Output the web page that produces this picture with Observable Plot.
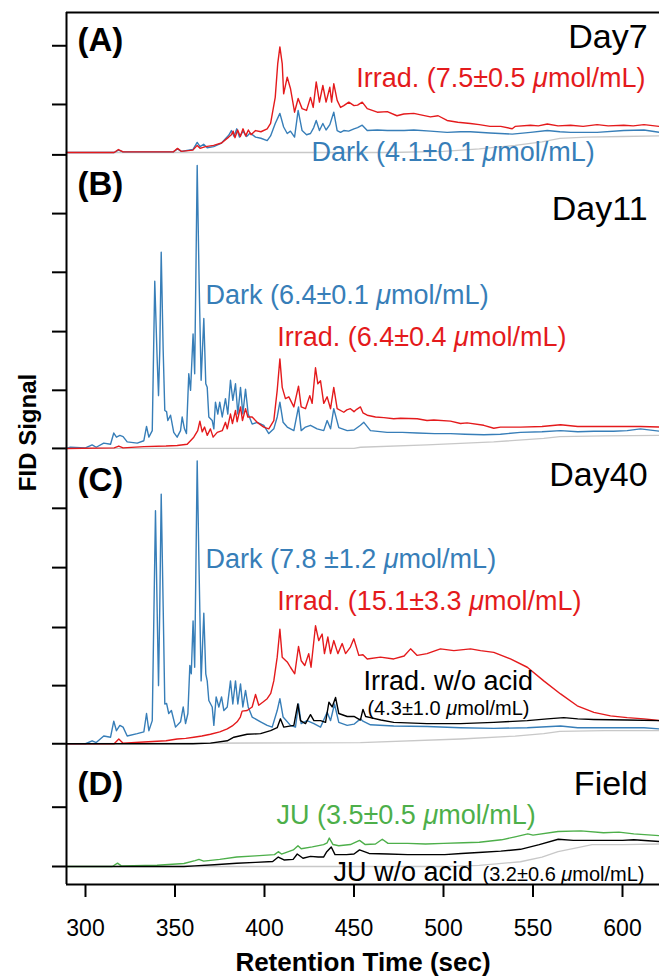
<!DOCTYPE html>
<html><head><meta charset="utf-8">
<script src="https://cdn.jsdelivr.net/npm/d3@7"></script>
<script src="https://cdn.jsdelivr.net/npm/@observablehq/plot@0.6"></script>
<style>
body{margin:0;background:#fff;}
#chart svg{font-family:"Liberation Sans",Arial,Helvetica,sans-serif;}
#chart svg [aria-label^="x-axis"] path, #chart svg [aria-label^="y-axis"] path{stroke-width:2px;}
</style></head><body><div id="chart"></div>
<script>
// ---------- data (retention time in sec, FID signal in tick units above panel baseline) ----------
const xTicks = [300, 350, 400, 450, 500, 550, 600];
const yTickValues = [0, 1, 2.07, 3.05, 4.03, 5.04, 6.04, 7.05, 8.03, 9.02, 10.02, 11.01, 12.0, 12.85, 13.84];

// Panel A (Day7)
const irradA = [[289.4,0],[316,0],[318.4,0.05],[321,0.01],[349,0.01],[351.4,0.07],[353.5,0.02],[360,0.04],[362.4,0.12],[364,0.07],[367,0.1],[371.6,0.12],[376,0.16],[380,0.26],[381.5,0.3],[382.5,0.36],[383.5,0.25],[385,0.38],[386.5,0.27],[388,0.4],[389.5,0.28],[391,0.38],[392.5,0.3],[395,0.37],[398,0.35],[401.5,0.4],[403.4,0.49],[406,0.93],[407.4,1.5],[408.6,1.78],[409.9,1.5],[410.7,0.99],[412.7,1.27],[414.5,1.08],[416.8,0.68],[418.8,0.91],[421,0.74],[423.5,0.71],[425.7,0.93],[427.2,0.76],[428.9,1.19],[430.7,0.85],[432.6,1.13],[434.4,0.85],[436.5,1.1],[437.5,0.85],[438.7,1.16],[440.6,0.88],[442.5,0.76],[444.3,0.79],[447.1,0.85],[450,0.79],[452,0.8],[454.6,0.85],[457.4,0.74],[463,0.68],[468.6,0.69],[474,0.62],[477.8,0.65],[483.4,0.66],[488,0.63],[492.7,0.6],[497,0.62],[502,0.54],[508,0.51],[515,0.49],[520,0.47],[526,0.44],[532,0.44],[538.4,0.4],[540,0.44],[548.6,0.46],[553,0.45],[558,0.48],[564,0.45],[571,0.46],[578,0.44],[585.8,0.47],[592,0.45],[600.7,0.46],[606,0.45],[612,0.47],[620.7,0.44]];
const darkA = [[289.4,0],[316,0],[318.4,0.04],[321,0.01],[349,0.01],[351.4,0.06],[353.5,0.02],[360,0.05],[362.4,0.17],[364,0.1],[366,0.14],[368,0.08],[371.6,0.1],[376,0.16],[380,0.29],[381.5,0.37],[383,0.27],[384.5,0.4],[386,0.26],[388,0.36],[390,0.27],[392,0.33],[395,0.26],[398,0.24],[401.5,0.2],[403.4,0.28],[406,0.49],[408.6,0.66],[410.7,0.43],[412.7,0.32],[414.5,0.36],[416.8,0.26],[418.8,0.71],[421,0.37],[423.5,0.3],[425.7,0.32],[427.5,0.42],[428.9,0.54],[430.7,0.37],[432.6,0.49],[434.4,0.38],[436.5,0.47],[438.7,0.68],[440.6,0.37],[442.5,0.34],[444.3,0.37],[447,0.36],[450,0.4],[452,0.42],[454.6,0.46],[457.4,0.37],[463,0.38],[468.6,0.37],[474,0.37],[478,0.37],[483.4,0.38],[492.7,0.36],[502,0.34],[509.5,0.35],[515,0.35],[526,0.33],[538.4,0.31],[548.6,0.34],[558,0.37],[565,0.35],[571,0.34],[585.8,0.34],[600.7,0.37],[612,0.38],[620.7,0.34]];
const blankA = [[289.4,0],[470,0],[500,0.02],[520,0.06],[540,0.12],[555,0.18],[565,0.24],[580,0.26],[600,0.27],[620.7,0.28]];

// Panel B (Day11)
const darkB = [[289.4,0],[291.6,0.02],[300,0.01],[303.7,0.06],[306,0.02],[310.2,0.09],[314,0.07],[315.8,0.26],[317.3,0.19],[319.2,0.22],[321,0.2],[323.3,0.11],[328.9,0.09],[332.6,0.13],[334.1,0.37],[335.4,0.19],[337.3,0.3],[338.7,2.82],[340,1.54],[340.8,0.89],[341.5,1.65],[342.3,3.31],[343.4,1.65],[344.3,0.64],[345.3,0.62],[346,0.47],[347.5,0.56],[349.3,0.27],[351.2,0.19],[353.1,0.3],[354,0.53],[355.3,0.33],[356.4,0.25],[357.7,1.26],[358.7,0.98],[360.1,1.93],[361,1.26],[362.4,4.77],[363.5,2.78],[364.6,1.15],[366.1,2.19],[367.2,1.09],[368,1.03],[368.9,0.53],[370.8,0.47],[371.7,0.33],[372.6,0.78],[373.9,0.58],[375,0.78],[376.4,0.53],[378.2,0.84],[379.5,0.58],[381,1.15],[382.3,0.81],[383.8,1.09],[385.1,0.58],[386.6,1.03],[387.9,0.58],[389.4,1.0],[390.9,0.58],[393.1,0.41],[395.9,0.44],[399.6,0.39],[402.4,0.25],[405.2,0.33],[407.1,0.53],[408.6,0.78],[410.4,0.44],[412.7,0.36],[416.4,0.3],[419,0.7],[420.5,0.3],[422.9,0.36],[425.7,0.39],[429.4,0.33],[433.1,0.3],[435,0.47],[436.9,0.33],[438.7,0.67],[441.5,0.35],[446.2,0.3],[450,0.31],[453.6,0.39],[455.5,0.44],[459.2,0.3],[468.5,0.27],[477,0.27],[485.3,0.26],[495,0.25],[503.9,0.25],[512,0.24],[522.5,0.23],[531.8,0.24],[543,0.27],[555,0.28],[565.4,0.3],[575,0.28],[584,0.29],[595,0.29],[602.6,0.3],[610,0.33],[620.7,0.29]];
const irradB = [[289.4,0],[316,0.01],[318.6,0.04],[321,0.01],[332.6,0.03],[345,0.04],[351.2,0.05],[356.8,0.07],[360.5,0.19],[362.7,0.3],[363.9,0.46],[365.2,0.28],[366.5,0.36],[368,0.22],[369.8,0.33],[371.3,0.19],[373.6,0.27],[376.4,0.3],[378.2,0.44],[379.2,0.33],[381,0.58],[382.1,0.42],[383.8,0.64],[384.7,0.45],[386.6,0.7],[387.7,0.47],[389.4,0.67],[390.7,0.53],[393.1,0.53],[395.9,0.44],[399.6,0.36],[402.4,0.33],[405.2,0.47],[407.1,0.98],[408.6,1.51],[409.9,1.03],[411.7,0.84],[413.6,0.87],[416.4,0.7],[419,1.05],[420.5,0.7],[422.9,0.67],[425.3,0.89],[426.6,0.76],[428.5,1.36],[429.8,1.09],[431.3,1.14],[433.1,0.76],[435,0.87],[436.9,0.67],[438.7,1.03],[440.6,0.67],[444.3,0.61],[446,0.65],[448,0.67],[450,0.62],[451.5,0.66],[453.6,0.7],[455,0.6],[457.4,0.56],[462,0.53],[466.7,0.52],[472.2,0.5],[476,0.51],[485.3,0.5],[490.8,0.47],[494.6,0.48],[503.9,0.46],[509.5,0.42],[513.2,0.43],[522.5,0.39],[528.1,0.34],[531.8,0.36],[543,0.36],[555,0.37],[565.4,0.4],[575,0.37],[584,0.37],[595,0.37],[602.6,0.37],[610,0.37],[620.7,0.36]];
const blankB = [[289.4,0],[450,0],[453.6,0.02],[490.8,0.06],[528,0.11],[556,0.17],[565,0.2],[590,0.21],[620.7,0.22]];

// Panel C (Day40)
const darkC = [[289.4,0],[300,0],[303.7,0.05],[306,0.02],[310.2,0.13],[314,0.11],[315.8,0.38],[317.3,0.22],[319.2,0.31],[321,0.28],[323.3,0.13],[328.9,0.17],[332.6,0.2],[334.1,0.51],[335.4,0.22],[337.3,0.39],[339.1,3.93],[340,2.3],[340.8,0.98],[341.5,2.3],[342.3,4.21],[343.4,2.3],[344.3,0.67],[345.3,0.68],[346.5,0.51],[348,0.56],[350.3,0.28],[353.1,0.37],[354.6,0.62],[355.9,0.34],[357.2,0.51],[358.3,1.32],[359.1,1.18],[360.1,2.07],[361,1.29],[362.4,4.77],[363.5,2.86],[364.6,1.06],[366.1,2.2],[367.2,1.18],[368,1.06],[368.9,0.73],[370.8,0.62],[371.7,0.31],[373,0.79],[374.5,0.62],[376,0.79],[377.3,0.56],[379.2,0.62],[381,1.06],[382.3,0.67],[383.8,1.06],[385.1,0.67],[386.6,1.01],[387.9,0.62],[389.4,0.9],[390.9,0.62],[393.1,0.45],[397.8,0.37],[401.5,0.31],[404.3,0.28],[407.1,0.56],[408.6,0.76],[410.4,0.45],[414.5,0.31],[417.3,0.28],[419,0.67],[420.5,0.34],[423.8,0.39],[427.6,0.34],[431.3,0.28],[435,0.53],[436.9,0.39],[439.1,0.67],[441.5,0.36],[446.2,0.31],[450,0.33],[453.6,0.42],[455,0.38],[459.2,0.32],[472.2,0.3],[490.8,0.29],[509.5,0.27],[528.1,0.26],[546.8,0.27],[565.4,0.3],[575,0.27],[584,0.27],[600,0.27],[612,0.27],[620.7,0.25]];
const irradC = [[289.4,0],[316,0],[318.6,0.08],[321,0.01],[332.6,0.03],[345,0.05],[351.2,0.08],[356,0.09],[360.5,0.11],[365,0.13],[369.8,0.16],[375,0.2],[379.2,0.25],[382,0.3],[384.7,0.37],[386.5,0.45],[387.5,0.55],[390.3,0.56],[393.1,0.62],[395,0.83],[396.8,0.65],[399,0.7],[401.5,0.76],[403.5,0.85],[405.2,1.06],[407.1,1.46],[408.6,1.93],[409.9,1.46],[412.7,1.38],[414.5,1.29],[416.9,1.18],[419,1.64],[420.5,1.4],[422.5,1.32],[424.7,1.52],[426,1.29],[428.5,1.99],[430.3,1.74],[432.2,1.85],[433.5,1.52],[435.4,1.8],[436.9,1.52],[438.7,1.74],[441,1.52],[443.4,1.69],[445.3,1.52],[448,1.63],[449.9,1.77],[452.7,1.49],[455,1.5],[457.4,1.43],[464.8,1.46],[472.2,1.43],[478,1.48],[481.6,1.6],[485.3,1.49],[490.8,1.52],[498.3,1.6],[505.8,1.57],[515.1,1.6],[520.7,1.57],[528.1,1.54],[537.4,1.43],[546.8,1.29],[556,1.06],[565.4,0.84],[574.7,0.64],[584,0.53],[593.3,0.47],[602.6,0.44],[612,0.42],[620.7,0.39]];
const noAcidC = [[289.4,0],[360,0],[369.8,0.01],[379.2,0.05],[382.9,0.11],[386,0.13],[390.3,0.16],[397.8,0.17],[403.4,0.22],[407.1,0.27],[408.9,0.42],[410.8,0.28],[416.4,0.31],[418.6,0.67],[420.1,0.39],[422.9,0.34],[425.7,0.49],[427.6,0.39],[431.3,0.39],[434.1,0.36],[436,0.7],[437.8,0.62],[439.7,0.78],[441.5,0.51],[446.2,0.46],[450,0.46],[453.6,0.4],[455,0.58],[456.5,0.46],[459.2,0.44],[465,0.4],[472.2,0.36],[490.8,0.34],[509.5,0.34],[528.1,0.36],[546.8,0.39],[558,0.42],[567.2,0.44],[575,0.42],[584,0.41],[602.6,0.4],[620.7,0.39]];
const blankC = [[289.4,0],[453.6,0.02],[509.5,0.08],[540,0.13],[556,0.17],[565,0.21],[590,0.22],[620.7,0.22]];

// Panel D (Field)
const juD = [[289.4,0],[315,0],[317.9,0.056],[320,0.01],[340,0.02],[355,0.05],[361.2,0.1],[363.4,0.12],[366,0.09],[375,0.12],[384.5,0.16],[395,0.18],[405.6,0.2],[407.7,0.25],[409.5,0.21],[416.1,0.28],[418.7,0.35],[420.5,0.3],[426.7,0.33],[433,0.37],[435,0.4],[436.2,0.48],[438.3,0.37],[441.5,0.35],[448,0.37],[453.1,0.44],[456.3,0.37],[462,0.38],[465.8,0.46],[469,0.39],[480,0.39],[490,0.38],[500,0.39],[511.2,0.4],[520,0.41],[532.4,0.45],[540,0.5],[547.1,0.55],[550,0.53],[564,0.59],[576.8,0.6],[589.4,0.57],[598,0.58],[606.3,0.55],[620.7,0.52]];
const juNoAcidD = [[289.4,0],[355,0],[361,0.01],[372,0.03],[384.5,0.056],[395,0.07],[404.6,0.084],[407.7,0.16],[410.9,0.11],[416,0.12],[418.3,0.21],[421.5,0.14],[425.7,0.17],[430,0.16],[433,0.16],[434.8,0.25],[437.3,0.33],[439.4,0.2],[445.8,0.2],[450,0.21],[453.1,0.28],[458.4,0.22],[469,0.21],[480,0.2],[490,0.2],[500.7,0.2],[510,0.22],[521.8,0.24],[532,0.26],[543,0.29],[553.5,0.37],[564.1,0.46],[572.5,0.44],[580,0.44],[589.4,0.44],[600,0.44],[606.3,0.45],[620.7,0.42]];
const blankD = [[289.4,0],[500,0],[520,0.02],[543,0.08],[555,0.16],[564,0.25],[575,0.32],[583,0.37],[600,0.37],[620.7,0.38]];

// label texts
const panelTags = ["(A)", "(B)", "(C)", "(D)"];
const panelNames = ["Day7", "Day11", "Day40", "Field"];
const seriesLabels = {
  irradA: "Irrad. (7.5±0.5 μmol/mL)", darkA: "Dark (4.1±0.1 μmol/mL)",
  darkB: "Dark (6.4±0.1 μmol/mL)", irradB: "Irrad. (6.4±0.4 μmol/mL)",
  darkC: "Dark (7.8 ±1.2 μmol/mL)", irradC: "Irrad. (15.1±3.3 μmol/mL)",
  noAcidC: "Irrad. w/o acid", noAcidCval: "(4.3±1.0 μmol/mL)",
  juD: "JU (3.5±0.5 μmol/mL)", juNoAcidD: "JU w/o acid", juNoAcidDval: "(3.2±0.6 μmol/mL)"
};
const xLabel = "Retention Time (sec)";
const yLabel = "FID Signal";

// ---------- layout ----------
const RED = "#e41a1c", BLUE = "#377eb8", GREEN = "#4daf4a", BLACK = "#000000", GRAY = "#c8c8c8";
const FONT = '"Liberation Sans", Arial, Helvetica, sans-serif';
const offset = {A: 12.04, B: 7.05, C: 2.07, D: 0};
const xDomain = [289.39, 620.67];
const yDomain = [-0.3035, 14.401];

const rows = (arr, panel) => arr.map(([t, v]) => ({t, y: v + offset[panel]}));
const line = (arr, panel, stroke, w = 1.4) => Plot.line(rows(arr, panel), {x: "t", y: "y", stroke, strokeWidth: w});

const ann = (text, panel, t, dv, opts) => ({text, x: t, y: offset[panel] + dv, ...opts});
const annotations = [
  ann(panelTags[0], "A", 295.5, 1.72, {size: 33, bold: true}),
  ann(panelTags[1], "B", 295.5, 4.28, {size: 33, bold: true}),
  ann(panelTags[2], "C", 295.5, 4.27, {size: 33, bold: true}),
  ann(panelTags[3], "D", 295.5, 1.2, {size: 33, bold: true}),
  ann(panelNames[0], "A", 614, 1.77, {size: 34, end: true}),
  ann(panelNames[1], "B", 614, 3.86, {size: 34, end: true}),
  ann(panelNames[2], "C", 614, 4.34, {size: 34, end: true}),
  ann(panelNames[3], "D", 614, 1.2, {size: 34, end: true}),
  ann(seriesLabels.irradA, "A", 612.8, 1.11, {size: 27, end: true, color: RED}),
  ann(seriesLabels.darkA, "A", 426.3, -0.15, {size: 27, color: BLUE}),
  ann(seriesLabels.darkB, "B", 367.0, 2.43, {size: 27, color: BLUE}),
  ann(seriesLabels.irradB, "B", 407.1, 1.72, {size: 27, color: RED}),
  ann(seriesLabels.darkC, "C", 367.0, 2.96, {size: 27, color: BLUE}),
  ann(seriesLabels.irradC, "C", 407.1, 2.26, {size: 27, color: RED}),
  ann(seriesLabels.noAcidC, "C", 455.3, 0.9, {size: 27, color: BLACK}),
  ann(seriesLabels.noAcidCval, "C", 457.5, 0.49, {size: 20, color: BLACK}),
  ann(seriesLabels.juD, "D", 406.7, 0.71, {size: 27, color: GREEN}),
  ann(seriesLabels.juNoAcidD, "D", 438.5, -0.24, {size: 27, color: BLACK}),
  ann(seriesLabels.juNoAcidDval, "D", 521.8, -0.24, {size: 20, color: BLACK})
];
const textMarks = d3.groups(annotations, d => `${d.size}|${!!d.bold}|${!!d.end}|${d.color || BLACK}`).map(([, g]) => {
  const s = g[0];
  return Plot.text(g, {x: "x", y: "y", text: "text", fontSize: s.size, fontWeight: s.bold ? "bold" : "normal",
    textAnchor: s.end ? "end" : "start", lineAnchor: "bottom", fill: s.color || BLACK, fontFamily: FONT});
});

const chart = Plot.plot({
  width: 659, height: 976,
  marginLeft: 66, marginRight: 0, marginTop: 12, marginBottom: 92,
  style: {fontFamily: FONT, fontSize: "23px", color: "black", background: "white", overflow: "visible"},
  x: {domain: xDomain, ticks: xTicks, tickSize: 13, tickPadding: 22, label: null, tickFormat: d => String(d)},
  y: {domain: yDomain, ticks: yTickValues, tickSize: 14, tickFormat: () => "", label: null},
  marks: [
    line(blankA, "A", GRAY, 1.3), line(blankB, "B", GRAY, 1.3), line(blankC, "C", GRAY, 1.3), line(blankD, "D", GRAY, 1.3),
    line(darkA, "A", BLUE), line(irradA, "A", RED),
    line(darkB, "B", BLUE), line(irradB, "B", RED),
    line(darkC, "C", BLUE), line(irradC, "C", RED), line(noAcidC, "C", BLACK),
    line(juD, "D", GREEN), line(juNoAcidD, "D", BLACK),
    Plot.ruleX([xDomain[0]], {stroke: "black", strokeWidth: 2}),
    Plot.ruleY([yDomain[0], yDomain[1]], {stroke: "black", strokeWidth: 2}),
    ...textMarks,
    Plot.text([yLabel], {frameAnchor: "left", dx: -38, dy: -16, rotate: -90, fontSize: 24, fontWeight: "bold", textAnchor: "middle", lineAnchor: "middle", fontFamily: FONT}),
    Plot.text([xLabel], {frameAnchor: "bottom", dy: 78, fontSize: 26, fontWeight: "bold", textAnchor: "middle", lineAnchor: "middle", fontFamily: FONT})
  ]
});

// italic micro sign, as in the reference
const NS = "http://www.w3.org/2000/svg";
chart.querySelectorAll("text").forEach(el => {
  const s = el.textContent;
  if (!s.includes("μ") || el.querySelector("tspan")) return;
  el.textContent = "";
  s.split(/(μ)/).forEach(part => {
    if (!part) return;
    const ts = document.createElementNS(NS, "tspan");
    ts.textContent = part;
    if (part === "μ") ts.setAttribute("font-style", "italic");
    el.appendChild(ts);
  });
});
document.getElementById("chart").appendChild(chart);
</script></body></html>
